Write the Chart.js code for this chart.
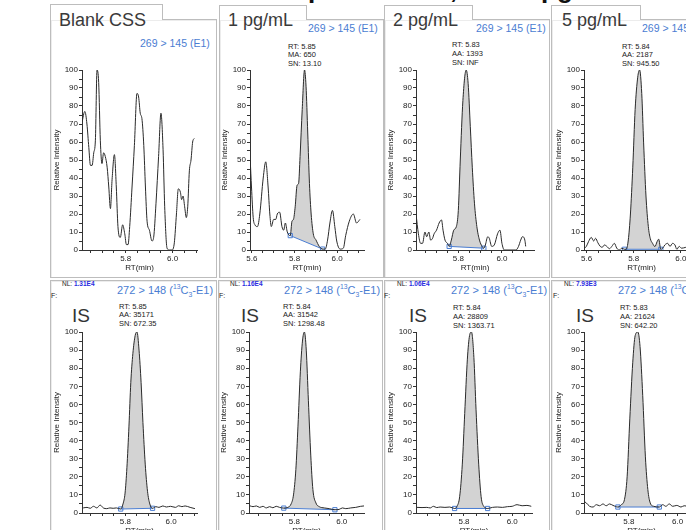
<!DOCTYPE html>
<html>
<head>
<meta charset="utf-8">
<script src="https://cdn.jsdelivr.net/npm/chart.js@4.4.1/dist/chart.umd.min.js"></script>
<style>
    html, body { margin: 0; padding: 0; background: #fff; }
    body { width: 686px; height: 530px; overflow: hidden; position: relative; font-family: "Liberation Sans", Arial, sans-serif; }
    .frame { position: absolute; border: 1px solid #bdbdbd; box-sizing: border-box; box-shadow: inset 1px 1px 0 #ececec; }
    .tab { position: absolute; border: 1px solid #bdbdbd; border-bottom: none; background: #fff; box-sizing: border-box; }
    .t { position: absolute; white-space: nowrap; line-height: 1; }
    .t sup, .t sub { font-size: 62%; line-height: 0; }
    canvas { position: absolute; }
</style>
</head>
<body>
<script>
(function () {
    'use strict';

    // Blank CSS, 269 > 145 (E1)
    var blankRt = [5.614, 5.626, 5.635, 5.643, 5.650, 5.657, 5.664, 5.671, 5.678, 5.685, 5.692, 5.699, 5.706, 5.713, 5.721,
        5.728, 5.735, 5.742, 5.752, 5.760, 5.767, 5.777, 5.787, 5.796, 5.803, 5.810, 5.817, 5.827, 5.837, 5.848,
        5.855, 5.862, 5.869, 5.877, 5.884, 5.891, 5.901, 5.912, 5.919, 5.929, 5.940, 5.950, 5.959, 5.966, 5.976,
        5.986, 5.997, 6.007, 6.016, 6.024, 6.033, 6.038, 6.044, 6.051, 6.058, 6.064, 6.071, 6.078, 6.085, 6.092];
    var blankInt = [71, 77, 70, 57, 47, 47, 54, 61, 100, 93, 61, 48, 54, 52, 46,
        35, 23, 39, 53, 35, 13, 7, 14, 9, 3, 3, 13, 35, 58, 87,
        85, 76, 73, 58, 35, 16, 11, 5, 7, 26, 52, 76, 56, 24, 1,
        0, 0, 4, 20, 34, 32, 28, 30, 24, 18, 24, 44, 50, 60, 62];

    // 1 pg/mL
    var pg1Rt = [5.592, 5.598, 5.606, 5.614, 5.626, 5.637, 5.653, 5.665, 5.676, 5.684, 5.691, 5.702, 5.712, 5.719, 5.730,
        5.741, 5.749, 5.757, 5.766, 5.780, 5.788, 5.795, 5.803, 5.812, 5.819, 5.826, 5.836, 5.847, 5.854, 5.862,
        5.870, 5.878, 5.888, 5.901, 5.916, 5.932, 5.944, 5.955, 5.966, 5.978, 5.989, 5.998, 6.014, 6.029, 6.040,
        6.057, 6.076, 6.091, 6.107];
    var pg1Int = [50, 35, 18, 14, 13, 20, 40, 49, 35, 20, 13, 17, 17, 20, 21,
        13, 11, 15, 10, 8, 16, 17, 24, 36, 37, 52, 78, 100, 91, 65,
        37, 20, 9, 5.5, 2, 0.5, 0.5, 5.5, 15, 22, 13, 5, 0.5, 1, 8,
        16, 20, 15, 17];
    var pg1BaseRt = [5.780, 5.932];
    var pg1BaseInt = [8, 0.5];

    // 2 pg/mL
    var pg2Rt = [5.606, 5.617, 5.627, 5.636, 5.647, 5.655, 5.665, 5.673, 5.682, 5.689, 5.700, 5.712, 5.723, 5.730, 5.739,
        5.750, 5.758, 5.768, 5.779, 5.791, 5.800, 5.809, 5.821, 5.836, 5.845, 5.855, 5.864, 5.874, 5.885, 5.897,
        5.909, 5.917, 5.924, 5.935, 5.942, 5.953, 5.965, 5.980, 5.991, 6.000, 6.011, 6.064, 6.076, 6.086, 6.094,
        6.105, 6.109];
    var pg2Int = [20, 9, 3.7, 3.7, 10, 7.4, 10, 5.5, 6.5, 9, 11, 15, 16.7, 11, 5.5,
        3.7, 2, 5.5, 11, 13, 22, 50, 83, 100, 92.6, 68.5, 46, 26, 13, 5.5,
        2, 1, 2.8, 7.4, 6.5, 2, 2.8, 9, 11, 3.7, 0, 0, 2, 5.5, 7.4,
        5.5, 2];
    var pg2BaseRt = [5.758, 5.917];
    var pg2BaseInt = [2, 1];

    // 5 pg/mL
    var pg5Rt = [5.592, 5.599, 5.608, 5.620, 5.630, 5.638, 5.648, 5.658, 5.666, 5.676, 5.686, 5.697, 5.707, 5.718, 5.728,
        5.739, 5.749, 5.761, 5.768, 5.777, 5.786, 5.796, 5.806, 5.817, 5.825, 5.834, 5.842, 5.852, 5.862, 5.870,
        5.880, 5.890, 5.899, 5.906, 5.915, 5.923, 5.932, 5.944, 5.954, 5.965, 5.975, 5.983, 5.993, 6.003, 6.021,
        6.040];
    var pg5Int = [1, 2, 4.6, 7, 5, 6.5, 4, 2, 1.5, 2.8, 2, 0.7, 2, 3.7, 1,
        0, 1, 0.4, 0.4, 5.6, 20, 46, 78, 96, 100, 87, 59.5, 30, 13, 6.5,
        3.7, 1.9, 4.6, 6, 0.4, 1, 2.8, 3.7, 2, 3.7, 2.8, 0.4, 2, 1, 1.5,
        2];
    var pg5BaseRt = [5.761, 5.915];
    var pg5BaseInt = [0.4, 0.4];

    // IS, 272 > 148 (13C3-E1)
    var is1Rt = [5.616, 5.633, 5.647, 5.661, 5.676, 5.690, 5.704, 5.719, 5.733, 5.747, 5.761, 5.780, 5.790, 5.799, 5.807,
        5.816, 5.824, 5.833, 5.843, 5.851, 5.860, 5.869, 5.877, 5.887, 5.897, 5.907, 5.919, 5.933, 5.947, 5.964,
        5.979, 5.997, 6.019, 6.033, 6.047, 6.061, 6.083, 6.104];
    var is1Int = [2.8, 3.1, 2.6, 3.7, 2.8, 4.4, 2.8, 2.4, 2.8, 2.6, 2.8, 2.2, 5, 11, 25,
        48, 72, 88, 98, 100, 90, 72, 50, 27, 12, 5, 2.6, 3.5, 3.1, 3.9,
        3.3, 3.7, 3.1, 4, 3.5, 3.9, 3.1, 2.4];
    var is1BaseRt = [5.780, 5.919];
    var is1BaseInt = [2.2, 2.6];

    var is2Rt = [5.611, 5.625, 5.639, 5.653, 5.667, 5.681, 5.695, 5.709, 5.723, 5.737, 5.755, 5.772, 5.786, 5.796, 5.806,
        5.815, 5.825, 5.834, 5.842, 5.850, 5.859, 5.869, 5.878, 5.891, 5.905, 5.926, 5.947, 5.971, 5.989, 6.003,
        6.017, 6.038, 6.059, 6.080, 6.094];
    var is2Int = [4, 3.5, 3.9, 3.1, 3.7, 2.8, 3.5, 2.9, 3.7, 3.1, 2.7, 3.1, 5, 10, 24,
        48, 78, 95, 100, 90, 62, 32, 13, 5.5, 3.5, 2.8, 2.4, 1.8, 2, 2.8,
        2.4, 2.8, 3.1, 3.7, 3.9];
    var is2BaseRt = [5.755, 5.971];
    var is2BaseInt = [2.7, 1.8];

    var is3Rt = [5.605, 5.626, 5.646, 5.660, 5.673, 5.687, 5.701, 5.721, 5.741, 5.761, 5.771, 5.782, 5.793, 5.803, 5.814,
        5.823, 5.831, 5.841, 5.850, 5.861, 5.871, 5.882, 5.898, 5.918, 5.939, 5.959, 5.980, 6.000, 6.020, 6.041,
        6.061, 6.079];
    var is3Int = [3.1, 3, 3.1, 2.8, 3.7, 3, 3.3, 3.1, 3.3, 2.5, 3.7, 9, 27, 55, 85,
        98, 100, 86, 57, 27, 9, 3.7, 2.5, 3.1, 3.3, 3.1, 3.5, 3.7, 4.6, 4,
        4.2, 3.7];
    var is3BaseRt = [5.761, 5.898];
    var is3BaseInt = [2.5, 2.5];

    var is4Rt = [5.616, 5.626, 5.639, 5.653, 5.667, 5.680, 5.694, 5.707, 5.721, 5.735, 5.755, 5.769, 5.782, 5.793, 5.804,
        5.816, 5.826, 5.837, 5.846, 5.857, 5.868, 5.878, 5.888, 5.902, 5.925, 5.939, 5.952, 5.966, 5.980, 5.997,
        6.014, 6.027, 6.048];
    var is4Int = [6.5, 5.5, 3.7, 3.3, 4.6, 4, 5, 4, 5, 4.2, 3.3, 4.6, 7.4, 20, 52,
        83, 98, 100, 92, 65, 31, 13, 5.5, 3.7, 3.3, 4.6, 3.7, 5, 3.7, 4.2,
        3.3, 4, 3.5];
    var is4BaseRt = [5.755, 5.925];
    var is4BaseInt = [3.3, 3.3];

    var sampleNames = ['Blank CSS', '1 pg/mL', '2 pg/mL', '5 pg/mL'];
    var analyteTransition = '269 &gt; 145 (E1)';
    var isTransition = '272 &gt; 148 (<sup>13</sup>C<sub>3</sub>-E1)';
    var nlValues = ['1.31E4', '1.16E4', '1.06E4', '7.93E3'];
    var analytePeakInfo = [null, ['RT: 5.85', 'MA: 650', 'SN: 13.10'], ['RT: 5.83', 'AA: 1393', 'SN: INF'], ['RT: 5.84', 'AA: 2187', 'SN: 945.50']];
    var isPeakInfo = [['RT: 5.85', 'AA: 35171', 'SN: 672.35'], ['RT: 5.84', 'AA: 31542', 'SN: 1298.48'],
        ['RT: 5.84', 'AA: 28809', 'SN: 1363.71'], ['RT: 5.83', 'AA: 21624', 'SN: 642.20']];

    var BLUE = '#4a7dd2';
    var LINE = '#2a2a2a';
    var FILL = '#d3d3d3';
    var AXIS = '#333';
    var YW = 34, PT = 10, PR = 4, XH = 23;

    function el(cls, left, top, w, h) {
        var d = document.createElement('div');
        d.className = cls;
        d.style.left = left + 'px';
        d.style.top = top + 'px';
        if (w != null) d.style.width = w + 'px';
        if (h != null) d.style.height = h + 'px';
        document.body.appendChild(d);
        return d;
    }

    function text(html, left, top, size, color, extra) {
        var d = el('t', left, top);
        d.innerHTML = html;
        d.style.fontSize = size + 'px';
        d.style.color = color || '#222';
        if (extra) Object.keys(extra).forEach(function (k) { d.style[k] = extra[k]; });
        return d;
    }

    function info(lines, left, top) {
        var d = text(lines.join('<br>'), left, top, 7.5, '#222');
        d.style.lineHeight = '8.8px';
    }

    // frames and tabs
    var topFrames = [[50, 167, 113, 4], [219, 165, 88, 5], [384, 166, 89, 5], [551, 170, 90, 5]];
    topFrames.forEach(function (f) {
        el('frame', f[0], 19, f[1], 259);
        var tab = el('tab', f[0], f[3], f[2], 20 - f[3]);
        tab.style.zIndex = 1;
    });
    var bottomFrames = [[50, 167], [218, 165], [384, 166], [551, 170]];
    bottomFrames.forEach(function (f) {
        el('frame', f[0], 280, f[1], 270);
    });

    // cut off heading (descenders only)
    var headFont = { fontWeight: 'bold' };
    text('p', 308, -24.5, 26, '#111', headFont);
    text(',', 450, -24.5, 26, '#111', headFont);
    text('pg', 541, -24.5, 26, '#111', headFont);

    // top row labels
    var nameX = [59, 228, 393, 562];
    var transPos = [[140, 37.8], [308, 23.4], [476, 23.4], [642, 23.4]];
    var infoPos = [null, [288, 42.5], [452, 41], [622, 42.5]];
    sampleNames.forEach(function (n, i) {
        var d = text(n, nameX[i], 11, 18, '#3a3a3a');
        d.style.zIndex = 2;
        text(analyteTransition, transPos[i][0], transPos[i][1], 10.5, BLUE);
        if (analytePeakInfo[i]) info(analytePeakInfo[i], infoPos[i][0], infoPos[i][1]);
    });

    // bottom row labels
    var fX = [51, 219, 384, 553];
    var nlX = [62, 230, 397, 564];
    var isTrX = [117, 284, 451, 618];
    var isX = [72, 241, 409, 576];
    var isInfoPos = [[119, 302.5], [283, 302.5], [453, 304], [620, 304]];
    nlValues.forEach(function (v, i) {
        text('F:', fX[i], 292, 7, '#222');
        text('NL: <b style="color:#2a2ae0">' + v + '</b>', nlX[i], 281, 6.5, '#222');
        text(isTransition, isTrX[i], 285, 11, BLUE);
        text('IS', isX[i], 305.5, 19, '#333');
        info(isPeakInfo[i], isInfoPos[i][0], isInfoPos[i][1]);
    });

    function toPoints(xs, ys) {
        return xs.map(function (x, i) { return { x: x, y: ys[i] }; });
    }

    function isMajorX(v) {
        return Math.abs(v * 5 - Math.round(v * 5)) < 1e-6;
    }

    function drawPanel(p) {
        var canvas = document.createElement('canvas');
        var areaW = p.right - p.axisX;
        var areaH = p.y0 - p.y100;
        canvas.width = Math.round(YW + areaW + PR);
        canvas.height = Math.round(PT + areaH + XH);
        canvas.style.left = (p.axisX - YW) + 'px';
        canvas.style.top = (p.y100 - PT) + 'px';
        canvas.style.zIndex = 3;
        document.body.appendChild(canvas);

        var curve = toPoints(p.rt, p.val);
        var datasets = [];
        if (p.baseRt) {
            var lo = p.baseRt[0] - 1e-9, hi = p.baseRt[1] + 1e-9;
            datasets.push({
                data: toPoints(p.baseRt, p.baseInt),
                borderColor: BLUE,
                borderWidth: 1,
                pointStyle: 'rect',
                pointRadius: 3,
                pointBorderWidth: 1,
                pointBorderColor: BLUE,
                pointBackgroundColor: 'rgba(255,255,255,0)',
                tension: 0,
                fill: false,
                order: 1
            });
            datasets.push({
                data: curve.filter(function (pt) { return pt.x >= lo && pt.x <= hi; }),
                borderWidth: 0,
                borderColor: 'rgba(0,0,0,0)',
                pointRadius: 0,
                backgroundColor: FILL,
                fill: '-1',
                cubicInterpolationMode: 'monotone',
                order: 2
            });
        }
        datasets.push({
            data: curve,
            borderColor: LINE,
            borderWidth: 1,
            pointRadius: 0,
            fill: false,
            cubicInterpolationMode: 'monotone',
            order: 0
        });

        return new Chart(canvas.getContext('2d'), {
            type: 'line',
            data: { datasets: datasets },
            options: {
                responsive: false,
                animation: false,
                devicePixelRatio: 1,
                layout: { padding: { top: PT, right: PR, left: 0, bottom: 0 } },
                plugins: {
                    legend: { display: false },
                    tooltip: { enabled: false },
                    filler: { drawTime: 'beforeDatasetsDraw' }
                },
                scales: {
                    x: {
                        type: 'linear',
                        min: p.xmin,
                        max: p.xmax,
                        afterFit: function (s) { s.height = XH; },
                        ticks: {
                            stepSize: 0.05,
                            includeBounds: false,
                            autoSkip: false,
                            maxRotation: 0,
                            padding: 1,
                            color: '#222',
                            font: { size: 8 },
                            callback: function (v) { return isMajorX(v) ? v.toFixed(1) : ''; }
                        },
                        grid: { drawOnChartArea: false, drawTicks: true, tickLength: 3, color: AXIS },
                        border: { color: AXIS, width: 1 },
                        title: { display: true, text: 'RT(min)', color: '#222', font: { size: 8 }, padding: { top: 0, bottom: 0 } }
                    },
                    y: {
                        min: 0,
                        max: 100,
                        afterFit: function (s) { s.width = YW; },
                        ticks: {
                            stepSize: 5,
                            autoSkip: false,
                            padding: 1,
                            color: '#222',
                            font: { size: 8 },
                            callback: function (v) { return v % 10 === 0 ? v : ''; }
                        },
                        grid: { drawOnChartArea: false, drawTicks: true, tickLength: 3, color: AXIS },
                        border: { color: AXIS, width: 1 },
                        title: { display: true, text: 'Relative Intensity', color: '#222', font: { size: 8 }, padding: { top: 4, bottom: 0 } }
                    }
                }
            }
        });
    }

    Chart.defaults.font.family = '"Liberation Sans", Arial, sans-serif';

    var panels = [
        { rt: blankRt, val: blankInt, axisX: 82, right: 197, y100: 70, y0: 250, xmin: 5.614, xmax: 6.1035 },
        { rt: pg1Rt, val: pg1Int, baseRt: pg1BaseRt, baseInt: pg1BaseInt, axisX: 250, right: 365, y100: 70, y0: 250, xmin: 5.591, xmax: 6.126 },
        { rt: pg2Rt, val: pg2Int, baseRt: pg2BaseRt, baseInt: pg2BaseInt, axisX: 416, right: 535, y100: 70, y0: 250, xmin: 5.606, xmax: 6.147 },
        { rt: pg5Rt, val: pg5Int, baseRt: pg5BaseRt, baseInt: pg5BaseInt, axisX: 584, right: 700, y100: 70, y0: 250, xmin: 5.589, xmax: 6.077 },
        { rt: is1Rt, val: is1Int, baseRt: is1BaseRt, baseInt: is1BaseInt, axisX: 82, right: 198, y100: 332, y0: 513, xmin: 5.611, xmax: 6.113 },
        { rt: is2Rt, val: is2Int, baseRt: is2BaseRt, baseInt: is2BaseInt, axisX: 249, right: 365, y100: 332, y0: 513, xmin: 5.608, xmax: 6.094 },
        { rt: is3Rt, val: is3Int, baseRt: is3BaseRt, baseInt: is3BaseInt, axisX: 416, right: 533, y100: 332, y0: 513, xmin: 5.601, xmax: 6.082 },
        { rt: is4Rt, val: is4Int, baseRt: is4BaseRt, baseInt: is4BaseInt, axisX: 584, right: 700, y100: 332, y0: 513, xmin: 5.616, xmax: 6.088 }
    ];

    panels.forEach(drawPanel);
})();
</script>
</body>
</html>
